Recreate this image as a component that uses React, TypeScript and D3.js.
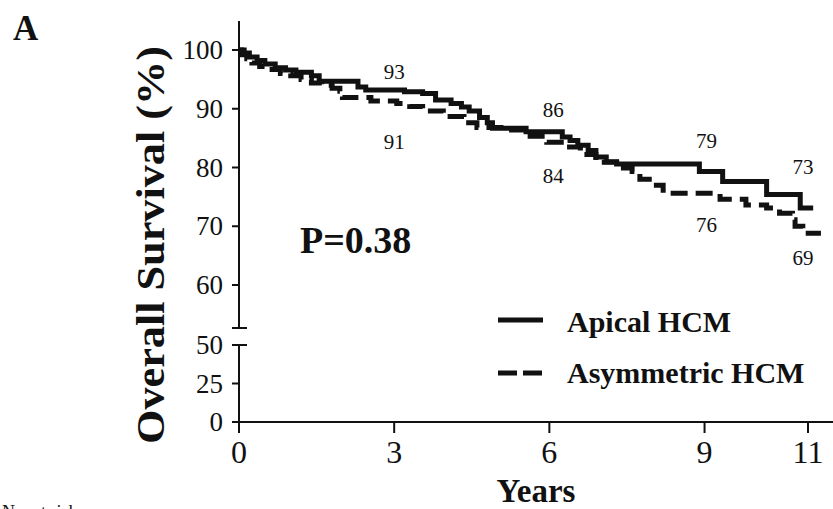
import React from "react";
import * as d3 from "d3";

// Kaplan-Meier steps: [years, survival %]
const apicalSteps: [number, number][] = [
  [0, 100], [0.1, 99.5], [0.2, 98.8], [0.35, 98.2], [0.5, 97.6], [0.7, 97.0],
  [0.9, 96.6], [1.1, 96.2], [1.4, 95.6], [1.55, 94.7], [2.1, 94.7], [2.3, 93.7],
  [2.45, 93.2], [3.2, 92.9], [3.55, 92.6], [3.8, 91.5], [4.1, 90.9], [4.3, 90.3],
  [4.45, 89.6], [4.65, 88.5], [4.8, 87.6], [4.9, 86.7], [5.4, 86.7], [5.55, 86.1],
  [6.15, 86.1], [6.25, 85.2], [6.4, 84.6], [6.55, 83.8], [6.75, 82.9], [6.9, 81.8],
  [7.1, 81.0], [7.3, 80.6], [8.9, 79.3], [9.35, 77.6], [10.2, 75.4], [10.85, 73.1],
  [11.1, 73.1],
];
const asymSteps: [number, number][] = [
  [0, 100], [0.05, 99.2], [0.15, 98.5], [0.25, 97.8], [0.4, 97.2], [0.5, 96.7],
  [0.8, 96.0], [1.0, 95.6], [1.2, 95.0], [1.4, 94.4], [1.6, 94.0], [1.8, 93.5],
  [1.95, 93.0], [2.0, 91.9], [2.55, 91.3], [3.05, 90.9], [3.3, 90.4], [3.55, 89.6],
  [3.95, 88.7], [4.35, 87.6], [4.6, 86.8], [5.2, 86.4], [5.5, 85.3], [5.95, 84.3],
  [6.3, 83.5], [6.6, 82.2], [6.9, 80.9], [7.3, 79.9], [7.6, 79.3], [7.75, 78.0],
  [8.0, 77.0], [8.2, 75.6], [9.05, 75.6], [9.3, 74.6], [9.8, 73.6], [10.2, 73.1],
  [10.45, 72.2], [10.7, 71.1], [10.75, 70.0], [10.9, 68.8], [11.25, 68.8],
];

const labelYears = [3, 6, 9, 11];
const apicalLabels = [93, 86, 79, 73];
const asymLabels = [91, 84, 76, 69];

const xTicks = [0, 3, 6, 9, 11];
const yTicksTop = [100, 90, 80, 70, 60];
const yTicksBottom = [50, 25, 0];

// hand placement of the percent labels around the curves
const apicalDy = [-12, -15, -25, -35];
const asymDy = [46, 39, 41, 33];
const labelDx = [0, 4, 2, -5];

const serif = "'Liberation Serif', 'DejaVu Serif', serif";

export default function App() {
  const x = d3.scaleLinear().domain([0, 11]).range([239, 808]);
  const yTop = d3.scaleLinear().domain([60, 100]).range([285, 50]);
  const yBot = d3.scaleLinear().domain([0, 50]).range([422, 345]);

  const line = d3
    .line<[number, number]>()
    .x((d) => x(d[0]))
    .y((d) => yTop(d[1]))
    .curve(d3.curveStepAfter);

  const ax = x(0);
  const ink = "#111";

  return (
    <svg
      width={833}
      height={509}
      style={{ position: "absolute", left: 0, top: 0, background: "#fff" }}
      fontFamily={serif}
    >
      <text x={13} y={40} fontSize={35} fontWeight="bold" fill={ink}>A</text>

      {/* y axis, broken */}
      <g stroke={ink} strokeWidth={2}>
        <line x1={ax} x2={ax} y1={21} y2={328} />
        <line x1={ax - 7} x2={ax + 8} y1={328} y2={328} />
        <line x1={ax} x2={ax} y1={yBot(50)} y2={yBot(0)} />
        <line x1={ax - 7} x2={ax + 8} y1={yBot(50)} y2={yBot(50)} />
        {yTicksTop.map((t) => (
          <line key={t} x1={ax - 7} x2={ax} y1={yTop(t)} y2={yTop(t)} />
        ))}
        {yTicksBottom.map((t) => (
          <line key={t} x1={ax - 7} x2={ax} y1={yBot(t)} y2={yBot(t)} />
        ))}
        {/* x axis */}
        <line x1={ax - 7} x2={833} y1={yBot(0)} y2={yBot(0)} />
        {xTicks.map((t) => (
          <line key={t} x1={x(t)} x2={x(t)} y1={yBot(0)} y2={yBot(0) + 11} />
        ))}
      </g>

      <g fontSize={27} fill={ink} textAnchor="end">
        {yTicksTop.map((t) => (
          <text key={t} x={ax - 16} y={yTop(t) + 9}>{t}</text>
        ))}
        {yTicksBottom.map((t) => (
          <text key={t} x={ax - 16} y={yBot(t) + 9}>{t}</text>
        ))}
      </g>
      <g fontSize={32} fill={ink} textAnchor="middle">
        {xTicks.map((t) => (
          <text key={t} x={x(t)} y={yBot(0) + 41}>{t}</text>
        ))}
      </g>

      <text
        transform="translate(164,245) rotate(-90)"
        textAnchor="middle"
        fontSize={41}
        fontWeight="bold"
        fill={ink}
        textLength={398}
        lengthAdjust="spacingAndGlyphs"
      >
        Overall Survival (%)
      </text>
      <text x={536} y={502} textAnchor="middle" fontSize={33} fontWeight="bold" fill={ink}>
        Years
      </text>
      <text x={2} y={518} fontSize={18} fill={ink}>No. at risk</text>

      {/* curves */}
      <path d={line(apicalSteps) ?? ""} fill="none" stroke={ink} strokeWidth={5} />
      <path
        d={line(asymSteps) ?? ""}
        fill="none"
        stroke={ink}
        strokeWidth={5}
        strokeDasharray="17,8"
      />

      <g fontSize={21} fill={ink} textAnchor="middle">
        {labelYears.map((t, i) => (
          <text key={"a" + t} x={x(t) + labelDx[i]} y={yTop(apicalLabels[i]) + apicalDy[i]}>
            {apicalLabels[i]}
          </text>
        ))}
        {labelYears.map((t, i) => (
          <text key={"s" + t} x={x(t) + labelDx[i]} y={yTop(asymLabels[i]) + asymDy[i]}>
            {asymLabels[i]}
          </text>
        ))}
      </g>

      <text x={300} y={253} fontSize={38} fontWeight="bold" fill={ink}>P=0.38</text>

      {/* legend */}
      <line x1={498} x2={543} y1={320} y2={320} stroke={ink} strokeWidth={5} />
      <text x={567} y={332} fontSize={30} fontWeight="bold" fill={ink}>Apical HCM</text>
      <line
        x1={498}
        x2={543}
        y1={373}
        y2={373}
        stroke={ink}
        strokeWidth={5}
        strokeDasharray="19,6"
      />
      <text x={567} y={383} fontSize={30} fontWeight="bold" fill={ink}>Asymmetric HCM</text>
    </svg>
  );
}
